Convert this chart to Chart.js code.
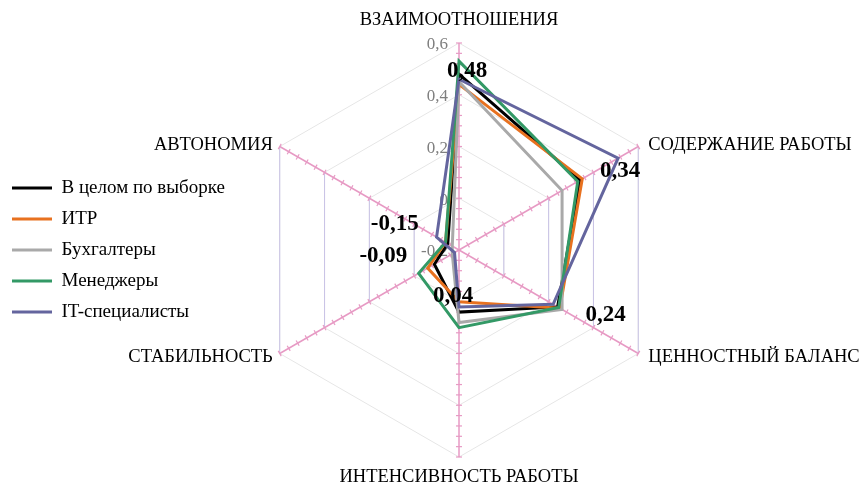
<!DOCTYPE html>
<html>
<head>
<meta charset="utf-8">
<script src="https://cdn.jsdelivr.net/npm/chart.js@4.4.1/dist/chart.umd.min.js"></script>
<style>
  html, body { margin: 0; padding: 0; background: #ffffff; }
  canvas { display: block; }
</style>
</head>
<body>
<canvas id="chart" width="867" height="487"></canvas>
<script>
const categories = [
  "ВЗАИМООТНОШЕНИЯ",
  "СОДЕРЖАНИЕ РАБОТЫ",
  "ЦЕННОСТНЫЙ БАЛАНС",
  "ИНТЕНСИВНОСТЬ РАБОТЫ",
  "СТАБИЛЬНОСТЬ",
  "АВТОНОМИЯ",
];
const seriesNames = ["В целом по выборке", "ИТР", "Бухгалтеры", "Менеджеры", "IT-специалисты"];
const overall = [0.48, 0.34, 0.24, 0.04, -0.09, -0.15];
const itr = [0.44, 0.35, 0.25, 0.0, -0.06, -0.14];
const accountants = [0.45, 0.26, 0.26, 0.08, -0.17, -0.17];
const managers = [0.53, 0.33, 0.245, 0.1, -0.02, -0.14];
const itSpecialists = [0.46, 0.51, 0.22, 0.02, -0.18, -0.1];
const tickValues = [-0.2, 0, 0.2, 0.4, 0.6];
const tickLabels = ["-0,2", "0", "0,2", "0,4", "0,6"];

const seriesData = [overall, itr, accountants, managers, itSpecialists];
const colors = ["#000000", "#E8711F", "#A9A9A9", "#339966", "#64659E"];
const serif = '"Liberation Serif", "Times New Roman", serif';
const minorStep = 0.04;
const centerX = 459;

// where the category names sit relative to the spoke ends
const catPlace = [
  { align: "center", dx: 0, dy: -23 },
  { align: "left", dx: 10, dy: -1.5 },
  { align: "left", dx: 10, dy: 3.5 },
  { align: "center", dx: 0, dy: 20 },
  { align: "right", dx: -7, dy: 3.5 },
  { align: "right", dx: -7, dy: -1.5 },
];
// data labels of the first series, moved by hand like in the original
const labelShift = [[8, -3], [40, -9], [48, 8], [-6, -16], [-51, -8], [-53, -19.5]];

const fmt = (v) => v.toFixed(2).replace(".", ",");

const decor = {
  id: "decor",
  beforeDatasetsDraw(chart) {
    const s = chart.scales.r;
    const ctx = chart.ctx;
    ctx.save();
    // vertical edges of the web are lavender in the original
    ctx.strokeStyle = "#C9C3E6";
    ctx.lineWidth = 1;
    tickValues.forEach((v) => {
      [[1, 2], [4, 5]].forEach(([a, b]) => {
        const p = s.getPointPositionForValue(a, v);
        const q = s.getPointPositionForValue(b, v);
        ctx.beginPath();
        ctx.moveTo(p.x, p.y);
        ctx.lineTo(q.x, q.y);
        ctx.stroke();
      });
    });
    // minor tick marks on every spoke
    ctx.strokeStyle = "#E79AC4";
    ctx.lineWidth = 1.2;
    const steps = Math.round((s.max - s.min) / minorStep);
    for (let i = 0; i < categories.length; i++) {
      const ang = s.getIndexAngle(i) - Math.PI / 2;
      const nx = -Math.sin(ang), ny = Math.cos(ang);
      for (let k = 1; k <= steps; k++) {
        const p = s.getPointPositionForValue(i, s.min + k * minorStep);
        ctx.beginPath();
        ctx.moveTo(p.x - nx * 3, p.y - ny * 3);
        ctx.lineTo(p.x + nx * 3, p.y + ny * 3);
        ctx.stroke();
      }
    }
    // value axis labels, left of the top spoke
    ctx.fillStyle = "#7F7F7F";
    ctx.font = "17px " + serif;
    ctx.textAlign = "right";
    ctx.textBaseline = "middle";
    tickValues.forEach((v, i) => {
      const p = s.getPointPositionForValue(0, v);
      ctx.fillText(tickLabels[i], p.x - 11, p.y + 2);
    });
    ctx.restore();
  },
  afterDatasetsDraw(chart) {
    const s = chart.scales.r;
    const ctx = chart.ctx;
    ctx.save();
    ctx.fillStyle = "#000000";
    ctx.textBaseline = "middle";
    ctx.font = "18.5px " + serif;
    categories.forEach((name, i) => {
      const p = s.getPointPositionForValue(i, s.max);
      ctx.textAlign = catPlace[i].align;
      ctx.fillText(name, p.x + catPlace[i].dx, p.y + catPlace[i].dy);
    });
    const meta = chart.getDatasetMeta(0);
    ctx.font = "bold 23px " + serif;
    ctx.textAlign = "center";
    meta.data.forEach((pt, i) => {
      ctx.fillText(fmt(overall[i]), pt.x + labelShift[i][0], pt.y + labelShift[i][1]);
    });
    ctx.restore();
  },
};

const chart = new Chart(document.getElementById("chart"), {
  type: "radar",
  data: {
    labels: categories,
    datasets: seriesNames.map((name, i) => ({
      label: name,
      data: seriesData[i],
      borderColor: colors[i],
      backgroundColor: colors[i],
      borderWidth: 3,
      pointRadius: 0,
      fill: false,
      order: seriesNames.length - i,
    })),
  },
  options: {
    responsive: false,
    animation: false,
    layout: { padding: { left: 0, right: 190, top: 43, bottom: 30 } },
    plugins: {
      tooltip: { enabled: false },
      legend: {
        position: "left",
        labels: {
          usePointStyle: true,
          pointStyle: "line",
          pointStyleWidth: 40,
          padding: 12,
          color: "#000000",
          font: { family: serif, size: 19 },
          sort: (a, b) => a.datasetIndex - b.datasetIndex,
        },
      },
    },
    scales: {
      r: {
        min: -0.2,
        max: 0.6,
        ticks: { stepSize: 0.2, display: false },
        pointLabels: { display: false },
        grid: { color: "#E6E6E6", lineWidth: 1, circular: false },
        angleLines: { color: "#E79AC4", lineWidth: 1.5 },
      },
    },
  },
  plugins: [decor],
});

// the legend eats space on the left; balance it on the right so the web sits at centerX
chart.options.layout.padding.right = Math.max(0, chart.legend.width + chart.width - 2 * centerX);
chart.update();
</script>
</body>
</html>
